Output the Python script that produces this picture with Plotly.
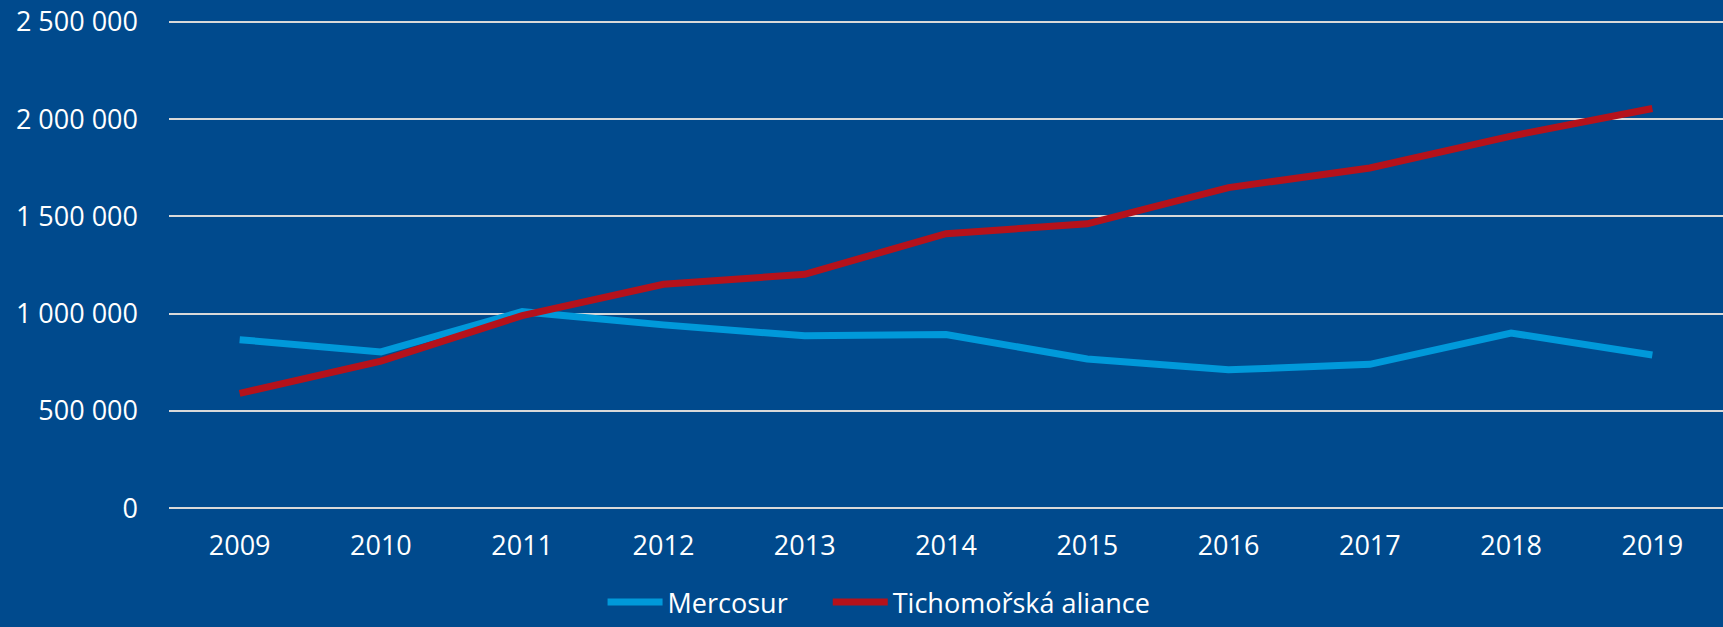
import plotly.graph_objects as go

years = ["2009", "2010", "2011", "2012", "2013", "2014", "2015", "2016", "2017", "2018", "2019"]
mercosur = [866000, 803000, 1010000, 942000, 886000, 892000, 767000, 711000, 739000, 900000, 787000]
pacific = [590000, 756000, 990000, 1151000, 1202000, 1411000, 1462000, 1648000, 1749000, 1913000, 2055000]
y_ticks = [0, 500000, 1000000, 1500000, 2000000, 2500000]
y_tick_labels = ["0", "500 000", "1 000 000", "1 500 000", "2 000 000", "2 500 000"]
series_names = ["Mercosur", "Tichomořská aliance"]

BG = "#004A8D"
FONT = "Open Sans"

fig = go.Figure()
fig.add_trace(go.Scatter(x=years, y=mercosur, name=series_names[0] + "\u00a0\u00a0\u00a0\u00a0\u00a0", mode="lines",
                         line=dict(color="#0099DA", width=7)))
fig.add_trace(go.Scatter(x=years, y=pacific, name=series_names[1], mode="lines",
                         line=dict(color="#B5121B", width=7)))

fig.update_layout(
    width=1723, height=627,
    paper_bgcolor=BG, plot_bgcolor=BG,
    margin=dict(l=169, r=0, t=20, b=116),
    font=dict(family=FONT, color="white", size=27),
    showlegend=True,
    legend=dict(orientation="h", x=0.279, xanchor="left", y=-0.238, yanchor="bottom",
                font=dict(size=27, color="white", family=FONT),
                bgcolor="rgba(0,0,0,0)", itemwidth=55, tracegroupgap=0),
)
fig.update_xaxes(type="category", range=[-0.5, 10.5], showgrid=False, zeroline=False,
                 showline=False, ticks="", ticklabelstandoff=17,
                 tickfont=dict(size=27, color="white", family=FONT))
fig.update_yaxes(range=[-10000, 2510000], tickvals=y_ticks, ticktext=y_tick_labels,
                 showgrid=True, gridcolor="#D9D9D9", gridwidth=2,
                 zeroline=False, showline=False, ticks="", ticklabelstandoff=30,
                 tickfont=dict(size=27, color="white", family=FONT))

fig.write_html("out.html")
